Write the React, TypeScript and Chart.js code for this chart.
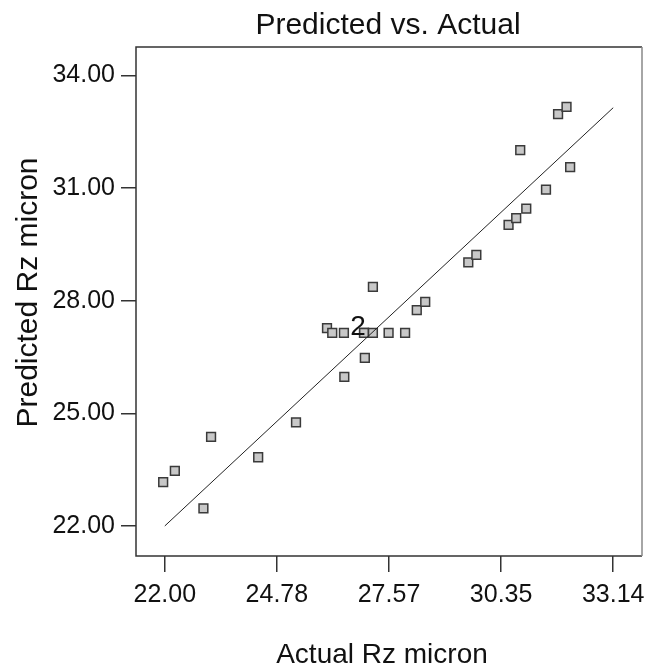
import React, { useEffect, useRef } from "react";
import { Chart, registerables } from "chart.js";

Chart.register(...registerables);

// Actual vs predicted Rz (micron)
const actual = [
  21.96, 22.25, 22.96, 23.15, 24.32, 25.26, 26.03, 26.16, 26.45, 26.95, 26.95,
  27.17, 27.56, 27.97, 27.17, 26.97, 26.46, 28.26, 28.47, 29.54, 29.74, 30.54,
  30.73, 30.98, 31.47, 32.07, 30.83, 31.77, 31.98,
];
const predicted = [
  23.17, 23.47, 22.47, 24.37, 23.83, 24.76, 27.27, 27.14, 27.14, 27.14, 27.14,
  27.14, 27.14, 27.14, 28.37, 26.48, 25.97, 27.75, 27.97, 29.02, 29.22, 30.02,
  30.2, 30.45, 30.96, 31.56, 32.01, 32.97, 33.16,
];
// points that carry a replicate-count label
const countIndex = [9];
const countText = ["2"];

// 45-degree reference line
const lineX = [22.0, 33.14];
const lineY = [22.0, 33.14];

const xTicks = [22.0, 24.785, 27.57, 30.355, 33.14];
const xTickLabels = ["22.00", "24.78", "27.57", "30.35", "33.14"];
const yTicks = [22, 25, 28, 31, 34];
const yTickLabels = ["22.00", "25.00", "28.00", "31.00", "34.00"];

const xMin = 21.285;
const xMax = 33.855;
const yMin = 21.2;
const yMax = 34.757;

const chartTitle = "Predicted vs. Actual";
const xTitle = "Actual Rz micron";
const yTitle = "Predicted Rz micron";

const FONT = '"Liberation Sans", Arial, Helvetica, sans-serif';

const framePlugin = {
  id: "frameAndCounts",
  beforeDatasetsDraw(chart: any) {
    const { ctx, chartArea } = chart;
    const { left, top, right, bottom } = chartArea;
    ctx.save();
    ctx.lineWidth = 1.5;
    ctx.strokeStyle = "#333333";
    ctx.beginPath();
    ctx.moveTo(right, bottom);
    ctx.lineTo(left, bottom);
    ctx.lineTo(left, top);
    ctx.lineTo(right, top);
    ctx.stroke();
    ctx.strokeStyle = "#888888";
    ctx.beginPath();
    ctx.moveTo(right, top);
    ctx.lineTo(right, bottom);
    ctx.stroke();
    ctx.restore();
  },
  afterDatasetsDraw(chart: any) {
    const { ctx, chartArea } = chart;
    const xs = chart.scales.x;
    const ys = chart.scales.y;
    ctx.save();
    ctx.fillStyle = "#111111";
    ctx.textAlign = "center";
    ctx.textBaseline = "middle";
    ctx.font = `28px ${FONT}`;
    countIndex.forEach((idx, i) => {
      const px = xs.getPixelForValue(actual[idx]);
      const py = ys.getPixelForValue(predicted[idx]);
      ctx.fillText(countText[i], px - 6, py - 6);
    });
    const cx = (chartArea.left + chartArea.right) / 2;
    const cy = (chartArea.top + chartArea.bottom) / 2;
    // chart title
    ctx.font = `30px ${FONT}`;
    ctx.fillText(chartTitle, cx - 1, chartArea.top - 21);
    // x title
    ctx.font = `28px ${FONT}`;
    ctx.fillText(xTitle, cx - 7, chart.height - 13);
    // y title
    ctx.save();
    ctx.translate(29, cy - 9);
    ctx.rotate(-Math.PI / 2);
    ctx.font = `30px ${FONT}`;
    ctx.fillText(yTitle, 0, 0);
    ctx.restore();
    ctx.restore();
  },
};

export default function App() {
  const ref = useRef<HTMLCanvasElement | null>(null);

  useEffect(() => {
    document.body.style.margin = "0";
    const canvas = ref.current;
    if (!canvas) return;

    const points = actual.map((x, i) => ({ x, y: predicted[i] }));
    const line = lineX.map((x, i) => ({ x, y: lineY[i] }));

    const chart = new Chart(canvas, {
      type: "scatter",
      data: {
        datasets: [
          {
            type: "line",
            data: line,
            borderColor: "#222222",
            borderWidth: 1,
            pointRadius: 0,
            fill: false,
          } as any,
          {
            type: "scatter",
            data: points,
            pointStyle: "rect",
            pointRadius: 6.2,
            backgroundColor: "#c8c8c8",
            borderColor: "#3a3a3a",
            borderWidth: 1.5,
          } as any,
        ],
      },
      options: {
        animation: false,
        responsive: false,
        layout: { padding: { left: 0, right: 19, top: 47, bottom: 0 } },
        plugins: {
          legend: { display: false },
          tooltip: { enabled: false },
          title: { display: false },
        },
        scales: {
          x: {
            type: "linear",
            min: xMin,
            max: xMax,
            afterBuildTicks: (scale: any) => {
              scale.ticks = xTicks.map((v) => ({ value: v }));
            },
            afterFit: (scale: any) => {
              scale.height = 112;
            },
            ticks: {
              autoSkip: false,
              maxRotation: 0,
              padding: 8,
              color: "#111111",
              font: { family: FONT, size: 25 },
              callback: (_v: any, i: number) => xTickLabels[i],
            },
            grid: {
              drawOnChartArea: false,
              drawTicks: true,
              tickLength: 16,
              color: "#333333",
              lineWidth: 1.5,
            },
            border: { display: false },
          },
          y: {
            type: "linear",
            min: yMin,
            max: yMax,
            afterBuildTicks: (scale: any) => {
              scale.ticks = yTicks.map((v) => ({ value: v }));
            },
            afterFit: (scale: any) => {
              scale.width = 136;
            },
            ticks: {
              autoSkip: false,
              padding: 6,
              color: "#111111",
              font: { family: FONT, size: 25 },
              callback: (_v: any, i: number) => yTickLabels[i],
            },
            grid: {
              drawOnChartArea: false,
              drawTicks: true,
              tickLength: 15,
              color: "#333333",
              lineWidth: 1.5,
            },
            border: { display: false },
          },
        },
      },
      plugins: [framePlugin],
    } as any);

    return () => {
      chart.destroy();
    };
  }, []);

  return (
    <canvas
      ref={ref}
      width={661}
      height={668}
      style={{ display: "block", width: 661, height: 668 }}
    />
  );
}
